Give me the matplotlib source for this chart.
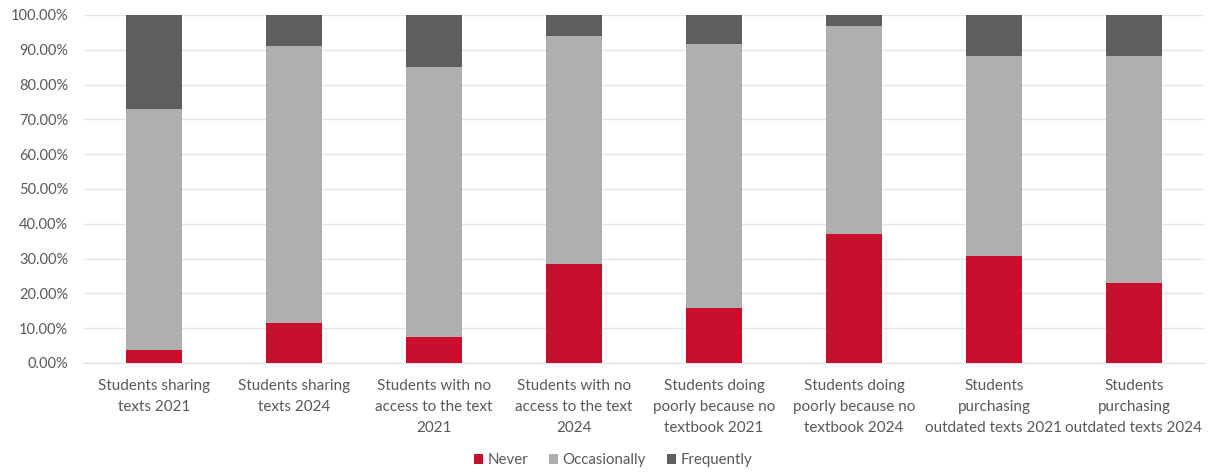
import matplotlib
matplotlib.use("Agg")
import matplotlib.pyplot as plt
from matplotlib.patches import Patch
from matplotlib.ticker import FuncFormatter
import numpy as np

categories = [
    "Students sharing\ntexts 2021",
    "Students sharing\ntexts 2024",
    "Students with no\naccess to the text\n2021",
    "Students with no\naccess to the text\n2024",
    "Students doing\npoorly because no\ntextbook 2021",
    "Students doing\npoorly because no\ntextbook 2024",
    "Students\npurchasing\noutdated texts 2021",
    "Students\npurchasing\noutdated texts 2024",
]
never = [3.7, 11.4, 7.6, 28.4, 15.9, 37.0, 30.8, 22.9]
occasionally = [69.2, 79.7, 77.4, 65.7, 75.8, 59.8, 57.5, 65.4]
frequently = [27.1, 8.9, 15.0, 5.9, 8.3, 3.2, 11.7, 11.7]

series_names = ["Never", "Occasionally", "Frequently"]
colors = ["#C8102E", "#AFAFAF", "#5E5E5E"]
text_color = "#595959"
grid_color = "#E3E3E3"

plt.rcParams["font.family"] = ["Lato", "DejaVu Sans"]

fig = plt.figure(figsize=(12.11, 4.73), dpi=100)
ax = fig.add_axes([0.0694, 0.2326, 0.9248, 0.7357])

x = np.arange(len(categories))
width = 0.4
bottom = np.zeros(len(categories))
for name, vals, col in zip(series_names, [never, occasionally, frequently], colors):
    vals = np.array(vals)
    ax.bar(x, vals, width, bottom=bottom, color=col, label=name, zorder=3)
    bottom += vals

ax.set_xlim(-0.5, len(categories) - 0.5)
ax.set_ylim(0, 100)
ax.set_yticks(np.arange(0, 101, 10))
ax.yaxis.set_major_formatter(FuncFormatter(lambda v, p: f"{v:.2f}%"))
ax.grid(axis="y", color=grid_color, linewidth=1, zorder=0)
ax.set_axisbelow(True)
for s in ["top", "right", "left"]:
    ax.spines[s].set_visible(False)
ax.spines["bottom"].set_color(grid_color)
ax.spines["bottom"].set_linewidth(1)

ax.set_xticks(x)
ax.set_xticklabels(categories, linespacing=1.62)
ax.tick_params(axis="both", length=0, colors=text_color)
ax.tick_params(axis="x", pad=11.5, labelsize=11)
ax.tick_params(axis="y", pad=11.5, labelsize=10.5)

handles = [Patch(facecolor=c, edgecolor="none") for c in colors]
fig.legend(handles, series_names, loc="center", bbox_to_anchor=(0.506, 0.027),
           ncol=3, frameon=False, fontsize=10.8, labelcolor=text_color,
           handlelength=0.6, handleheight=0.6, handletextpad=0.3,
           columnspacing=1.4)

fig.savefig("out.png", dpi=100, facecolor="white")
